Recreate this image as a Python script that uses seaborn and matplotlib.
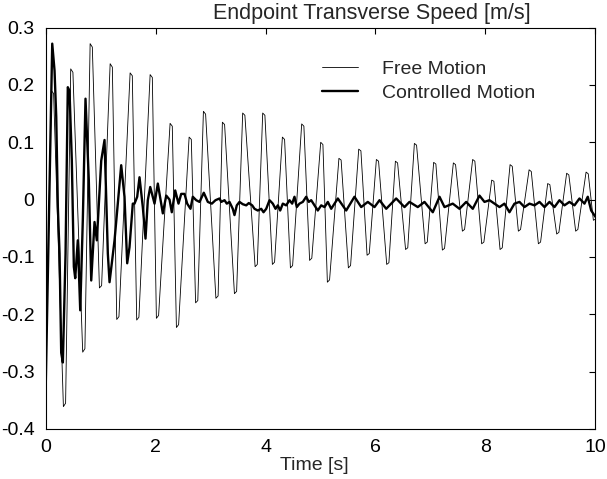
import matplotlib
matplotlib.use("Agg")
import pandas as pd
import seaborn as sns
import matplotlib.pyplot as plt

# Free motion: start and end of each flat-topped extreme (time [s], speed [m/s])
free_t = [0.0, 0.107, 0.147, 0.325, 0.365, 0.458, 0.498, 0.676, 0.716, 0.811, 0.851,
          0.98, 1.02, 1.175, 1.215, 1.295, 1.335, 1.538, 1.578, 1.658, 1.698,
          1.902, 1.942, 2.016, 2.056, 2.265, 2.305, 2.38, 2.42, 2.611, 2.651,
          2.729, 2.769, 2.871, 2.911, 3.098, 3.138, 3.216, 3.256, 3.435, 3.475,
          3.585, 3.625, 3.811, 3.851, 3.949, 3.989, 4.125, 4.165, 4.307, 4.347,
          4.453, 4.493, 4.658, 4.698, 4.802, 4.842, 5.004, 5.044, 5.125, 5.165,
          5.335, 5.375, 5.507, 5.547, 5.695, 5.735, 5.847, 5.887, 6.016, 6.056,
          6.204, 6.244, 6.362, 6.402, 6.547, 6.587, 6.707, 6.747, 6.902, 6.942,
          7.058, 7.098, 7.216, 7.256, 7.416, 7.456, 7.58, 7.62, 7.767, 7.807,
          7.931, 7.971, 8.113, 8.153, 8.265, 8.305, 8.447, 8.487, 8.598, 8.638,
          8.793, 8.833, 8.962, 9.002, 9.131, 9.171, 9.295, 9.335, 9.476, 9.516,
          9.64, 9.68, 9.829, 9.869, 9.962, 10.0]
free_v = [-0.33, 0.190, 0.185, -0.361, -0.355, 0.228, 0.222, -0.266, -0.260, 0.272, 0.266,
          -0.154, -0.150, 0.237, 0.231, -0.209, -0.204, 0.221, 0.216, -0.210, -0.205,
          0.218, 0.213, -0.207, -0.202, 0.133, 0.128, -0.223, -0.218, 0.109, 0.105,
          -0.180, -0.176, 0.154, 0.149, -0.172, -0.168, 0.135, 0.131, -0.164, -0.160,
          0.151, 0.147, -0.117, -0.113, 0.151, 0.147, -0.113, -0.109, 0.109, 0.105,
          -0.119, -0.115, 0.132, 0.128, -0.106, -0.102, 0.100, 0.096, -0.144, -0.140,
          0.072, 0.069, -0.119, -0.115, 0.088, 0.085, -0.097, -0.094, 0.070, 0.067,
          -0.113, -0.110, 0.067, 0.064, -0.087, -0.084, 0.098, 0.095, -0.077, -0.074,
          0.065, 0.062, -0.088, -0.085, 0.064, 0.061, -0.055, -0.052, 0.070, 0.067,
          -0.077, -0.074, 0.034, 0.032, -0.087, -0.084, 0.061, 0.058, -0.055, -0.052,
          0.052, 0.049, -0.077, -0.074, 0.028, 0.026, -0.060, -0.057, 0.046, 0.043,
          -0.055, -0.052, 0.048, 0.045, -0.036, -0.034]

# Controlled motion samples
ctrl_t = [0.0, 0.122, 0.164, 0.195, 0.224, 0.255, 0.285, 0.315, 0.364, 0.405,
          0.436, 0.478, 0.515, 0.540, 0.587, 0.631, 0.678, 0.727, 0.787, 0.831,
          0.891, 0.933, 1.013, 1.073, 1.133, 1.164, 1.255, 1.376, 1.436, 1.485,
          1.527, 1.587, 1.618, 1.667, 1.709, 1.769, 1.818, 1.860, 1.904, 1.982,
          2.042, 2.104, 2.133, 2.195, 2.255, 2.296, 2.358, 2.418, 2.467, 2.527,
          2.576, 2.636, 2.678, 2.740, 2.8, 2.878, 2.951, 3.024, 3.091, 3.164,
          3.195, 3.255, 3.296, 3.345, 3.405, 3.436, 3.478, 3.527, 3.587, 3.649,
          3.696, 3.758, 3.8, 3.860, 3.922, 3.964, 4.013, 4.073, 4.133, 4.182,
          4.224, 4.267, 4.315, 4.376, 4.436, 4.485, 4.527, 4.569, 4.618, 4.678,
          4.740, 4.787, 4.831, 4.891, 4.951, 5.013, 5.073, 5.133, 5.195, 5.315,
          5.467, 5.618, 5.740, 5.860, 5.982, 6.073, 6.195, 6.376, 6.527, 6.618,
          6.769, 6.891, 7.042, 7.164, 7.255, 7.405, 7.527, 7.649, 7.769, 7.891,
          7.982, 8.073, 8.164, 8.255, 8.345, 8.436, 8.527, 8.618, 8.709, 8.8,
          8.891, 8.982, 9.073, 9.164, 9.255, 9.345, 9.436, 9.527, 9.618, 9.709,
          9.8, 9.860, 9.922, 10.0]
ctrl_v = [-0.344, 0.272, 0.225, 0.144, -0.013, -0.094, -0.267, -0.284, -0.094, 0.196,
          0.190, 0.069, -0.117, -0.137, -0.071, -0.193, -0.036, 0.176, 0.034, -0.141,
          -0.039, -0.071, 0.068, 0.104, -0.094, -0.144, -0.071, 0.060, 0.005, -0.111,
          -0.083, -0.007, -0.007, 0.005, 0.039, -0.013, -0.068, -0.001, 0.022, -0.007,
          0.028, -0.007, -0.024, 0.007, 0.0, -0.022, 0.016, -0.007, 0.010, 0.010,
          -0.007, -0.016, 0.005, -0.001, -0.004, 0.012, -0.004, -0.007, -0.001, 0.002,
          -0.004, -0.001, -0.007, -0.004, -0.016, -0.027, -0.010, -0.004, -0.008, -0.010,
          -0.006, -0.010, -0.016, -0.019, -0.016, -0.022, -0.016, -0.001, -0.007, -0.016,
          -0.010, -0.019, -0.007, -0.010, -0.001, -0.007, 0.005, -0.013, -0.007, -0.004,
          0.005, -0.004, -0.001, -0.010, -0.019, -0.010, -0.013, -0.004, -0.016, 0.002,
          -0.019, 0.005, -0.013, -0.004, -0.013, -0.001, -0.016, 0.002, -0.013, -0.004,
          -0.013, -0.004, -0.022, 0.005, -0.013, -0.007, -0.016, -0.004, -0.016, 0.007,
          -0.004, -0.001, -0.007, -0.013, -0.007, -0.022, -0.007, -0.004, -0.013, -0.007,
          -0.010, -0.004, -0.013, -0.004, -0.013, -0.001, -0.010, -0.004, -0.010, 0.002,
          -0.007, 0.005, -0.019, -0.03]

x_ticks = [0, 2, 4, 6, 8, 10]
y_ticks = [-0.4, -0.3, -0.2, -0.1, 0, 0.1, 0.2, 0.3]
y_tick_labels = ["-0.4", "-0.3", "-0.2", "-0.1", "0", "0.1", "0.2", "0.3"]

sns.set_style("white")
plt.rcParams["font.family"] = ["Liberation Sans", "DejaVu Sans"]

fig = plt.figure(figsize=(6.07, 4.79), dpi=100)
ax = fig.add_axes([0.075, 0.1044, 0.906, 0.838])

free_df = pd.DataFrame({"t": free_t, "v": free_v})
ctrl_df = pd.DataFrame({"t": ctrl_t, "v": ctrl_v})
sns.lineplot(data=free_df, x="t", y="v", ax=ax, color="black", linewidth=0.6,
             estimator=None, sort=False, label="Free Motion")
sns.lineplot(data=ctrl_df, x="t", y="v", ax=ax, color="black", linewidth=1.7,
             estimator=None, sort=False, label="Controlled Motion")

ax.set_xlim(0, 10)
ax.set_ylim(-0.4, 0.3)
ax.set_xticks(x_ticks)
ax.set_xticklabels([str(t) for t in x_ticks])
ax.set_yticks(y_ticks)
ax.set_yticklabels(y_tick_labels)
ax.tick_params(direction="in", length=4, width=0.8, colors="black", labelsize=14,
               top=True, right=True)
ax.tick_params(axis="x", pad=7)
ax.tick_params(axis="y", pad=8)
for sp in ax.spines.values():
    sp.set_color("black")
    sp.set_linewidth(0.8)
ax.set_xlabel("")
ax.set_ylabel("")

fig.text(372 / 607, 1 - 19 / 479, "Endpoint Transverse Speed [m/s]", ha="center",
         va="baseline", fontsize=15.5)
fig.text(314.5 / 607, 1 - 470 / 479, "Time [s]", ha="center", va="baseline", fontsize=14)

ax.legend(loc="upper left", bbox_to_anchor=(322 / 607, 1 - 60 / 479),
          bbox_transform=fig.transFigure, frameon=False, fontsize=14,
          handlelength=1.85, handletextpad=1.25, labelspacing=0.35, borderpad=0,
          borderaxespad=0)

fig.savefig("out.png", dpi=100)
